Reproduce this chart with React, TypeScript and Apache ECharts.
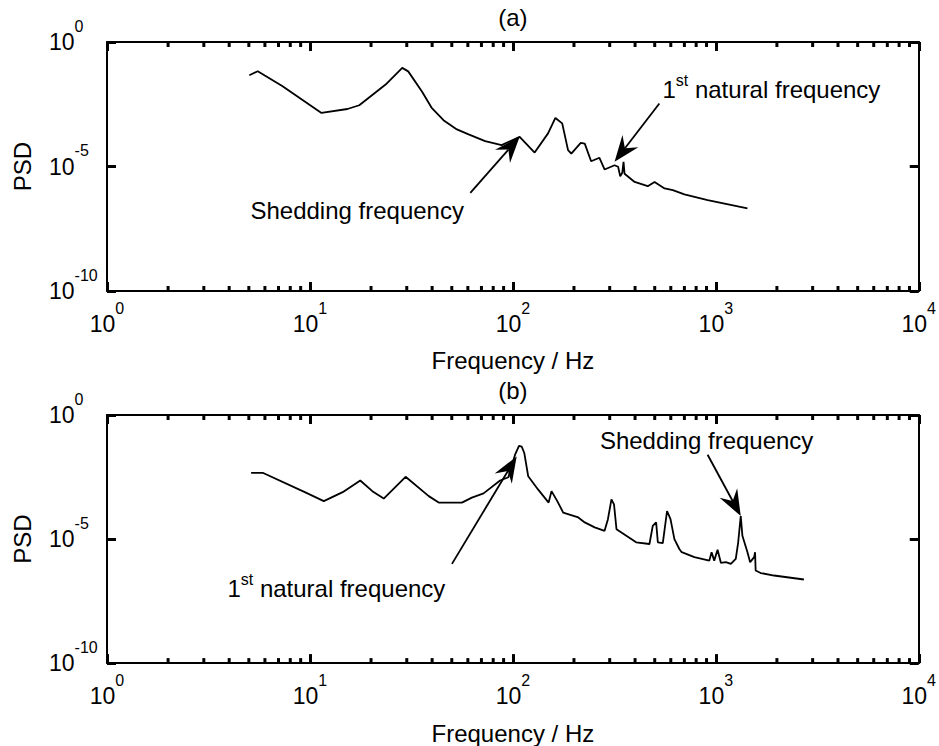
import React, { useEffect, useRef } from "react";
import * as echarts from "echarts";

const FONT = "'Liberation Sans', Arial, Helvetica, sans-serif";
const TICK_COLOR = "#000";

// Axis ranges
const X_MIN = 1;
const X_MAX = 10000;
const Y_MIN = 1e-10;
const Y_MAX = 1;

// Panel (a)
const freqA = [5.03, 5.53, 7.3, 11.4, 15.3, 17.5, 23.6, 28.5, 30.5, 35.7, 39.7, 45.5, 53, 60.5, 73, 88, 108, 128, 149, 162, 175, 187, 194, 216, 226, 243, 267, 283, 317, 330, 338, 346, 351, 355, 398, 462, 499, 559, 614, 700, 912, 1432];
const psdA = [4.61e-2, 6.67e-2, 1.7e-2, 1.41e-3, 2.04e-3, 2.88e-3, 1.95e-2, 9.12e-2, 6.61e-2, 1.0e-2, 2.34e-3, 7.24e-4, 3.09e-4, 1.95e-4, 1.05e-4, 7.24e-5, 1.55e-4, 3.63e-5, 2.14e-4, 8.91e-4, 5.37e-4, 4.57e-5, 3.31e-5, 8.91e-5, 8.32e-5, 1.62e-5, 2.24e-5, 7.59e-6, 1.12e-5, 9.77e-6, 4.07e-6, 5.62e-6, 1.55e-5, 5.13e-6, 2.4e-6, 1.62e-6, 2.4e-6, 1.32e-6, 1.12e-6, 7.59e-7, 4.47e-7, 2.09e-7];

// Panel (b)
const freqB = [5.13, 5.85, 9.55, 11.7, 14.5, 17.7, 20.3, 23.1, 29.6, 38.5, 43.1, 56.1, 62.8, 71.7, 86.5, 95, 102.5, 107.2, 110.5, 113.8, 119, 133, 150, 155, 165, 177, 210, 226, 253, 283, 294, 306, 315, 324, 405, 471, 489, 508, 518, 548, 575, 598, 625, 661, 679, 784, 929, 953, 982, 1020, 1059, 1121, 1186, 1254, 1289, 1327, 1352, 1432, 1476, 1545, 1561, 1571, 1663, 1935, 2717];
const psdB = [4.68e-3, 4.68e-3, 7.41e-4, 3.39e-4, 7.76e-4, 2.29e-3, 8.51e-4, 4.27e-4, 3.24e-3, 5.37e-4, 2.95e-4, 2.95e-4, 4.68e-4, 6.92e-4, 2.29e-3, 3.09e-3, 2.51e-2, 5.75e-2, 5.37e-2, 2.95e-2, 3.39e-3, 1.0e-3, 2.95e-4, 8.51e-4, 3.55e-4, 1.17e-4, 7.41e-5, 4.68e-5, 2.95e-5, 2.14e-5, 6.31e-5, 3.98e-4, 2.51e-4, 2.51e-5, 7.41e-6, 6.31e-6, 3.39e-5, 4.68e-5, 7.41e-6, 6.92e-6, 1.35e-4, 6.31e-5, 1.0e-5, 3.98e-6, 2.95e-6, 1.86e-6, 1.35e-6, 2.95e-6, 1.35e-6, 3.72e-6, 1.1e-6, 1.17e-6, 1.0e-6, 1.58e-6, 7.41e-6, 8.51e-5, 1.35e-5, 2.95e-6, 1.17e-6, 1.86e-6, 2.95e-6, 5.37e-7, 4.27e-7, 3.39e-7, 2.34e-7];

// Minor tick positions on the frequency axis
const xMinorTicks = [2, 3, 4, 5, 6, 7, 8, 9, 20, 30, 40, 50, 60, 70, 80, 90, 200, 300, 400, 500, 600, 700, 800, 900, 2000, 3000, 4000, 5000, 6000, 7000, 8000, 9000];

// Annotations (data coordinates)
const annotationsA = [
  { text: "{n|Shedding frequency}", textAt: [17.1, 1.78e-7], tail: [61.7, 8.7e-7], tip: [108, 1.55e-4] },
  { text: "{n|1}{s|st}{n| natural frequency}", textAt: [1879, 1.27e-2], tail: [527, 3.4e-3], tip: [317, 1.55e-5] },
];
const annotationsB = [
  { text: "{n|1}{s|st}{n| natural frequency}", textAt: [13.5, 1e-7], tail: [50.1, 1e-6], tip: [104.4, 2.14e-2] },
  { text: "{n|Shedding frequency}", textAt: [901, 9.12e-2], tail: [911, 2.51e-2], tip: [1327, 8.51e-5] },
];

const titles = ["(a)", "(b)"];
const xName = "Frequency / Hz";
const yName = "PSD";

const makeLabelRich = () => ({
  b: { fontSize: 23, fontFamily: FONT, color: "#000", lineHeight: 24 },
  s: { fontSize: 16, fontFamily: FONT, color: "#000", lineHeight: 16, padding: [0, 0, 32, 0] },
});
const annRich = {
  n: { fontSize: 24, fontFamily: FONT, fill: "#000", lineHeight: 26 },
  s: { fontSize: 16, fontFamily: FONT, fill: "#000", lineHeight: 16, padding: [0, 0, 18, 0] },
};

const expLabel = (v: number) => `{b|10}{s|${Math.round(Math.log10(v))}}`;

function minorRender(params: any, api: any) {
  const f = xMinorTicks[params.dataIndex];
  const b = api.coord([f, Y_MIN]);
  const t = api.coord([f, Y_MAX]);
  return {
    type: "group",
    children: [
      { type: "rect", shape: { x: b[0] - 1.5, y: b[1] - 5, width: 3, height: 5 }, style: { fill: TICK_COLOR } },
      { type: "rect", shape: { x: t[0] - 1.5, y: t[1], width: 3, height: 5 }, style: { fill: TICK_COLOR } },
    ],
  };
}

function makeAnnRender(list: any[]) {
  return (params: any, api: any) => {
    const a = list[params.dataIndex];
    const t = api.coord(a.textAt);
    const p0 = api.coord(a.tail);
    const p1 = api.coord(a.tip);
    const dx = p1[0] - p0[0];
    const dy = p1[1] - p0[1];
    const len = Math.hypot(dx, dy);
    const ux = dx / len;
    const uy = dy / len;
    const nx = -uy;
    const ny = ux;
    const L = 26;
    const W = 10;
    const N = 17;
    const bx = p1[0] - ux * L;
    const by = p1[1] - uy * L;
    const notch = [p1[0] - ux * N, p1[1] - uy * N];
    return {
      type: "group",
      children: [
        { type: "line", shape: { x1: p0[0], y1: p0[1], x2: notch[0], y2: notch[1] }, style: { stroke: "#000", lineWidth: 1.8 } },
        {
          type: "polygon",
          shape: { points: [[p1[0], p1[1]], [bx + nx * W, by + ny * W], notch, [bx - nx * W, by - ny * W]] },
          style: { fill: "#000" },
        },
        {
          type: "text",
          x: t[0],
          y: t[1],
          style: {
            text: a.text,
            rich: annRich,
            fontSize: 24,
            fontFamily: FONT,
            fill: "#000",
            align: "center",
            verticalAlign: "middle",
          },
        },
      ],
    };
  };
}

function buildOption() {
  const grids = [
    { left: 107, top: 42, width: 815, height: 249, containLabel: false },
    { left: 107, top: 415, width: 815, height: 250, containLabel: false },
  ];
  const tick = () => ({ show: true, inside: true, length: 9, lineStyle: { color: TICK_COLOR, width: 3 } });
  const xAxis: any[] = [];
  const yAxis: any[] = [];
  [0, 1].forEach((g) => {
    xAxis.push({
      type: "log",
      gridIndex: g,
      position: "bottom",
      min: X_MIN,
      max: X_MAX,
      axisLine: { show: true, lineStyle: { color: "#000", width: 2 } },
      axisTick: tick(),
      splitLine: { show: false },
      axisLabel: { show: true, margin: 21, formatter: expLabel, rich: makeLabelRich() },
      name: xName,
      nameLocation: "middle",
      nameGap: 47,
      nameTextStyle: { fontSize: 24, fontFamily: FONT, color: "#000" },
    });
    xAxis.push({
      type: "log",
      gridIndex: g,
      position: "top",
      min: X_MIN,
      max: X_MAX,
      axisLine: { show: true, lineStyle: { color: "#000", width: 2 } },
      axisTick: tick(),
      splitLine: { show: false },
      axisLabel: { show: false },
      name: titles[g],
      nameLocation: "middle",
      nameGap: 13,
      nameTextStyle: { fontSize: 24, fontFamily: FONT, color: "#000" },
    });
    yAxis.push({
      type: "log",
      logBase: 100000,
      gridIndex: g,
      position: "left",
      min: Y_MIN,
      max: Y_MAX,
      axisLine: { show: true, lineStyle: { color: "#000", width: 2 } },
      axisTick: tick(),
      splitLine: { show: false },
      axisLabel: { show: true, margin: 58, align: "left", formatter: expLabel, rich: makeLabelRich() },
      name: yName,
      nameLocation: "middle",
      nameGap: 73,
      nameTextStyle: { fontSize: 24, fontFamily: FONT, color: "#000" },
    });
    yAxis.push({
      type: "log",
      logBase: 100000,
      gridIndex: g,
      position: "right",
      min: Y_MIN,
      max: Y_MAX,
      axisLine: { show: true, lineStyle: { color: "#000", width: 2 } },
      axisTick: tick(),
      splitLine: { show: false },
      axisLabel: { show: false },
    });
  });

  const lineSeries = (fx: number[], py: number[], xi: number, yi: number) => ({
    type: "line",
    xAxisIndex: xi,
    yAxisIndex: yi,
    data: fx.map((f, i) => [f, py[i]]),
    showSymbol: false,
    lineStyle: { color: "#000", width: 1.8 },
  });

  const minorSeries = (xi: number, yi: number) => ({
    type: "custom",
    xAxisIndex: xi,
    yAxisIndex: yi,
    clip: false,
    data: xMinorTicks.map((f) => [f, 1e-5]),
    renderItem: minorRender,
  });

  const annSeries = (list: any[], xi: number, yi: number) => ({
    type: "custom",
    xAxisIndex: xi,
    yAxisIndex: yi,
    clip: false,
    data: list.map((a) => a.tip),
    renderItem: makeAnnRender(list),
  });

  return {
    animation: false,
    backgroundColor: "#fff",
    textStyle: { fontFamily: FONT },
    grid: grids,
    xAxis,
    yAxis,
    series: [
      minorSeries(0, 0),
      minorSeries(2, 2),
      lineSeries(freqA, psdA, 0, 0),
      lineSeries(freqB, psdB, 2, 2),
      annSeries(annotationsA, 0, 0),
      annSeries(annotationsB, 2, 2),
    ],
  };
}

export default function App() {
  const ref = useRef<HTMLDivElement>(null);
  useEffect(() => {
    if (!ref.current) return;
    const chart = echarts.init(ref.current, null, { renderer: "svg" });
    chart.setOption(buildOption() as any);
    return () => chart.dispose();
  }, []);
  return (
    <div
      ref={ref}
      style={{ position: "fixed", left: 0, top: 0, width: 939, height: 746, background: "#fff" }}
    />
  );
}
